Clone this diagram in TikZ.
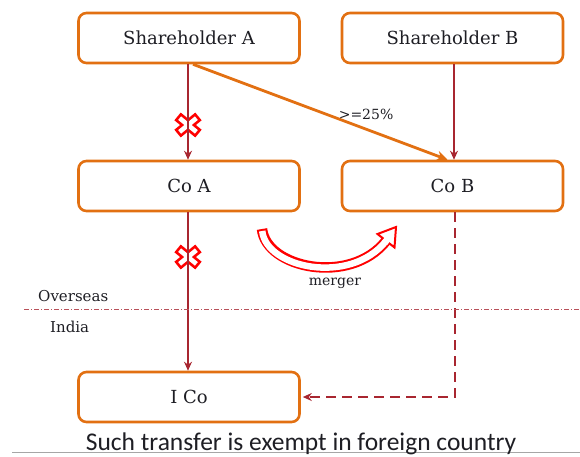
\documentclass[tikz,border=0pt]{standalone}
\usepackage{fontspec}
\setmainfont{DejaVu Serif}
\newfontfamily\notefont{Carlito}
\usetikzlibrary{arrows.meta,calc}

\definecolor{boxorange}{RGB}{226,112,18}
\definecolor{linkred}{RGB}{168,38,48}
\definecolor{crossred}{RGB}{255,0,0}
\definecolor{inktext}{RGB}{30,30,36}

\tikzset{
  entity/.style={draw=boxorange, line width=2.6pt, rounded corners=8pt, fill=white,
    minimum width=221pt, minimum height=50pt, inner sep=0pt,
    font=\fontsize{18}{22}\selectfont, text=inktext},
  link/.style={draw=linkred, line width=1.3pt, -{Stealth[length=9pt,width=8pt]}},
  stake/.style={draw=boxorange, line width=2.8pt, -{Stealth[length=11pt,width=10pt]}},
  sidelabel/.style={font=\fontsize{14}{17}\selectfont, text=inktext, inner sep=0pt},
  blocked/.pic={
    \draw[crossred, line width=10pt, line cap=rect] (-6.6,-5.4) -- (6.6,5.4) (-6.6,5.4) -- (6.6,-5.4);
    \draw[white, line width=4.6pt, line cap=rect] (-6.6,-5.4) -- (6.6,5.4) (-6.6,5.4) -- (6.6,-5.4);
  }
}

\begin{document}
\begin{tikzpicture}[x=1pt, y=-1pt]
  \useasboundingbox (0,0) rectangle (580,456);

  % the five parties
  \node[entity] (ShA) at (189,38)   {Shareholder A};
  \node[entity] (ShB) at (452.5,38) {Shareholder B};
  \node[entity] (CoA) at (189,186)  {Co A};
  \node[entity] (CoB) at (452.5,186){Co B};
  \node[entity] (ICo) at (189,397)  {I Co};

  % blocked transfers
  \coordinate (x1) at (188,125);
  \coordinate (x2) at (188,257);
  \pic at (x1) {blocked};
  \pic at (x2) {blocked};

  % shareholdings
  \draw[link] ($(ShA.south)+(-1,0)$) -- ($(CoA.north)+(-1,0)$);
  \draw[link] ($(ShB.south)+(1.5,0)$) -- ($(CoB.north)+(1.5,0)$);
  \draw[stake] ($(ShA.south)+(4,0)$) -- node[sidelabel, pos=0.68, above=8pt] {>=25\%} ($(CoB.north)+(-5,0)$);

  % Indian subsidiary
  \draw[link] ($(CoA.south)+(-1,0)$) -- ($(ICo.north)+(-1,0)$);
  \draw[link, dash pattern=on 10pt off 6pt] ($(CoB.south)+(2.5,0)$) |- ($(ICo.east)+(2,0)$);

  % border between jurisdictions
  \draw[linkred!80, line width=0.9pt, dash pattern=on 5pt off 2pt on 1pt off 2pt] (24,309) -- (580,309);
  \node[sidelabel, font=\fontsize{15}{18}\selectfont, anchor=west] (ov) at (38,296) {Overseas};
  \node[sidelabel, font=\fontsize{15}{18}\selectfont, anchor=west] (in) at (50,327) {India};

  % merger arrow: outlined curved block arrow
  \coordinate (mL) at (262,229);
  \coordinate (mE) at (386,241);
  \draw[crossred, line width=10.5pt] (mL) .. controls (266,268) and (350,286) .. (mE);
  \filldraw[crossred, fill=white, line width=2pt, line join=miter]
    (396,227) -- (394.5,247.5) -- (377.5,234) -- cycle;
  \draw[white, line width=6.5pt, shorten <=2pt] (mL) .. controls (266,268) and (350,286) .. (mE);
  \draw[white, line width=6.5pt] (384.5,243) -- (388,238.5);
  \node[sidelabel] (mg) at (335,283) {merger};

  % footnote
  \draw[black!35, line width=0.6pt] (12,452) -- (580,452);
  \node[font=\notefont\fontsize{25.5}{30}\selectfont, text=inktext, anchor=base] (note) at (301,450)
    {Such transfer is exempt in foreign country};
\end{tikzpicture}
\end{document}
